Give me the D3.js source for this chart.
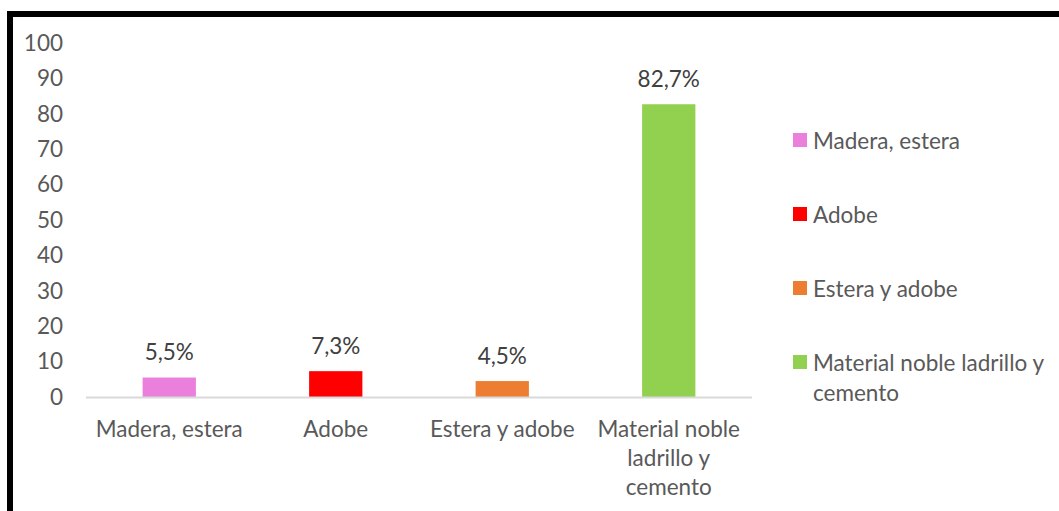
<!DOCTYPE html>
<html>
<head>
<meta charset="utf-8">
<script src="https://cdn.jsdelivr.net/npm/d3@7"></script>
<style>
  html, body { margin: 0; padding: 0; background: #fff; }
  svg { display: block; }
  text { font-family: Lato, "Open Sans", sans-serif; }
</style>
</head>
<body>
<svg id="chart" width="1059" height="511"></svg>
<script>
// Material predominante de la vivienda (%)
const categories = ["Madera, estera", "Adobe", "Estera y adobe", "Material noble ladrillo y cemento"];
const axisLabels = [["Madera, estera"], ["Adobe"], ["Estera y adobe"], ["Material noble", "ladrillo y", "cemento"]];
const legendLabels = [["Madera, estera"], ["Adobe"], ["Estera y adobe"], ["Material noble ladrillo y", "cemento"]];
const values = [5.5, 7.3, 4.5, 82.7];
const valueLabels = ["5,5%", "7,3%", "4,5%", "82,7%"];
const colors = ["#EA7FDC", "#FF0000", "#ED7D31", "#92D050"];
const yTicks = [0, 10, 20, 30, 40, 50, 60, 70, 80, 90, 100];

const svg = d3.select("#chart");
const fontSize = 22.5;

// outer frame
svg.append("rect")
  .attr("x", 10).attr("y", 14)
  .attr("width", 1200).attr("height", 700)
  .attr("fill", "none").attr("stroke", "#000").attr("stroke-width", 6);

const plot = { left: 86, right: 752, top: 43, bottom: 397 };

const x = d3.scaleBand().domain(categories).range([plot.left, plot.right]).paddingInner(0.68).paddingOuter(0.34);
const y = d3.scaleLinear().domain([0, 100]).range([plot.bottom, plot.top]);

// y axis labels
const yAxis = svg.append("g").attr("transform", `translate(${plot.left - 23},0)`)
  .call(d3.axisLeft(y).tickValues(yTicks).tickSize(0).tickPadding(0));
yAxis.select(".domain").remove();
yAxis.selectAll("text")
  .attr("fill", "#595959").style("font-size", fontSize + "px")
  .style("font-family", "Lato, 'Open Sans', sans-serif");

// bars
svg.append("g").selectAll("rect").data(categories).join("rect")
  .attr("x", d => x(d))
  .attr("width", x.bandwidth())
  .attr("y", (d, i) => y(values[i]))
  .attr("height", (d, i) => y(0) - y(values[i]))
  .attr("fill", (d, i) => colors[i]);

// baseline
svg.append("line")
  .attr("x1", plot.left).attr("x2", plot.right)
  .attr("y1", y(0) + 0.5).attr("y2", y(0) + 0.5)
  .attr("stroke", "#D9D9D9").attr("stroke-width", 2);

// value labels
svg.append("g").selectAll("text").data(categories).join("text")
  .attr("x", d => x(d) + x.bandwidth() / 2)
  .attr("y", (d, i) => y(values[i]) - 26)
  .attr("text-anchor", "middle").attr("dominant-baseline", "central")
  .attr("fill", "#404040").style("font-size", fontSize + "px")
  .text((d, i) => valueLabels[i]);

// category labels
const cat = svg.append("g").selectAll("text").data(categories).join("text")
  .attr("x", d => x(d) + x.bandwidth() / 2)
  .attr("y", 428)
  .attr("text-anchor", "middle").attr("dominant-baseline", "central")
  .attr("fill", "#595959").style("font-size", fontSize + "px");
cat.each(function(d, i) {
  d3.select(this).selectAll("tspan").data(axisLabels[i]).join("tspan")
    .attr("x", x(d) + x.bandwidth() / 2)
    .attr("dy", (t, j) => j === 0 ? 0 : 29)
    .text(t => t);
});

// legend
const legendY = d3.scalePoint().domain(categories).range([140, 362]);
const lg = svg.append("g").selectAll("g").data(categories).join("g")
  .attr("transform", d => `translate(793,${legendY(d)})`);
lg.append("rect").attr("x", 0).attr("y", -7).attr("width", 14).attr("height", 14)
  .attr("fill", (d, i) => colors[i]);
lg.append("text").attr("x", 20).attr("y", 0)
  .attr("dominant-baseline", "central")
  .attr("fill", "#595959").style("font-size", fontSize + "px")
  .each(function(d, i) {
    d3.select(this).selectAll("tspan").data(legendLabels[i]).join("tspan")
      .attr("x", 20).attr("dy", (t, j) => j === 0 ? 0 : 30)
      .text(t => t);
  });
</script>
</body>
</html>
